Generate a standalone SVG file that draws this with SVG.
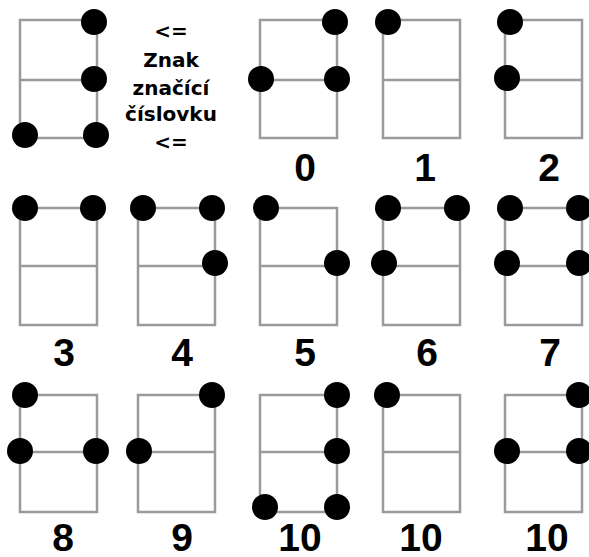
<svg xmlns="http://www.w3.org/2000/svg" width="589" height="557" viewBox="0 0 589 557">
<style>
.box{fill:none;stroke:#9a9a9a;stroke-width:2.5}
.dot{fill:#000}
.lbl{font-family:"Liberation Sans",Arial,sans-serif;font-weight:bold;font-size:39px;fill:#000;text-anchor:middle}
.key{font-family:"DejaVu Sans",Verdana,sans-serif;font-weight:bold;font-size:20px;fill:#000;text-anchor:middle}
</style>
<rect width="589" height="557" fill="#fff"/>
<g id="key">
<rect class="box" x="20" y="20" width="77" height="118"/><line class="box" x1="20" y1="80" x2="97" y2="80"/>
<circle class="dot" cx="94" cy="22" r="13"/><circle class="dot" cx="94" cy="79" r="13"/><circle class="dot" cx="25" cy="135" r="13"/><circle class="dot" cx="96" cy="135" r="13"/>
</g>
<g id="key-text">
<text class="key" x="171" y="38">&lt;=</text>
<text class="key" x="171" y="67">Znak</text>
<text class="key" x="171" y="95">značící</text>
<text class="key" x="171" y="121">číslovku</text>
<text class="key" x="171" y="149">&lt;=</text>
</g>
<g id="n0">
<rect class="box" x="260" y="20" width="77" height="118"/><line class="box" x1="260" y1="80" x2="337" y2="80"/>
<circle class="dot" cx="335" cy="22" r="13"/><circle class="dot" cx="261" cy="79" r="13"/><circle class="dot" cx="337" cy="79" r="13"/>
<text class="lbl" x="305" y="181">0</text>
</g>
<g id="n1">
<rect class="box" x="383" y="20" width="77" height="118"/><line class="box" x1="383" y1="80" x2="460" y2="80"/>
<circle class="dot" cx="388" cy="22" r="13"/>
<text class="lbl" x="425" y="181">1</text>
</g>
<g id="n2">
<rect class="box" x="505" y="20" width="77" height="118"/><line class="box" x1="505" y1="80" x2="582" y2="80"/>
<circle class="dot" cx="510" cy="22" r="13"/><circle class="dot" cx="507" cy="78" r="13"/>
<text class="lbl" x="549" y="181">2</text>
</g>
<g id="n3">
<rect class="box" x="20" y="208" width="77" height="117"/><line class="box" x1="20" y1="266" x2="97" y2="266"/>
<circle class="dot" cx="25" cy="208" r="13"/><circle class="dot" cx="93" cy="208" r="13"/>
<text class="lbl" x="64" y="366">3</text>
</g>
<g id="n4">
<rect class="box" x="138" y="208" width="77" height="117"/><line class="box" x1="138" y1="266" x2="215" y2="266"/>
<circle class="dot" cx="143" cy="208" r="13"/><circle class="dot" cx="212" cy="208" r="13"/><circle class="dot" cx="215" cy="263" r="13"/>
<text class="lbl" x="182" y="366">4</text>
</g>
<g id="n5">
<rect class="box" x="260" y="208" width="77" height="117"/><line class="box" x1="260" y1="266" x2="337" y2="266"/>
<circle class="dot" cx="266" cy="208" r="13"/><circle class="dot" cx="337" cy="263" r="13"/>
<text class="lbl" x="305" y="366">5</text>
</g>
<g id="n6">
<rect class="box" x="383" y="208" width="77" height="117"/><line class="box" x1="383" y1="266" x2="460" y2="266"/>
<circle class="dot" cx="388" cy="208" r="13"/><circle class="dot" cx="457" cy="208" r="13"/><circle class="dot" cx="384" cy="263" r="13"/>
<text class="lbl" x="427" y="366">6</text>
</g>
<g id="n7">
<rect class="box" x="505" y="208" width="77" height="117"/><line class="box" x1="505" y1="266" x2="582" y2="266"/>
<circle class="dot" cx="510" cy="208" r="13"/><circle class="dot" cx="579" cy="208" r="13"/><circle class="dot" cx="507" cy="263" r="13"/><circle class="dot" cx="579" cy="263" r="13"/>
<text class="lbl" x="550" y="366">7</text>
</g>
<g id="n8">
<rect class="box" x="20" y="395" width="77" height="117"/><line class="box" x1="20" y1="452" x2="97" y2="452"/>
<circle class="dot" cx="25" cy="395" r="13"/><circle class="dot" cx="20" cy="451" r="13"/><circle class="dot" cx="96" cy="451" r="13"/>
<text class="lbl" x="63" y="551">8</text>
</g>
<g id="n9">
<rect class="box" x="138" y="395" width="77" height="117"/><line class="box" x1="138" y1="452" x2="215" y2="452"/>
<circle class="dot" cx="212" cy="395" r="13"/><circle class="dot" cx="139" cy="451" r="13"/>
<text class="lbl" x="182" y="551">9</text>
</g>
<g id="n10a">
<rect class="box" x="260" y="395" width="77" height="117"/><line class="box" x1="260" y1="452" x2="337" y2="452"/>
<circle class="dot" cx="337" cy="395" r="13"/><circle class="dot" cx="337" cy="451" r="13"/><circle class="dot" cx="265" cy="507" r="13"/><circle class="dot" cx="337" cy="507" r="13"/>
<text class="lbl" x="300" y="551">10</text>
</g>
<g id="n10b">
<rect class="box" x="383" y="395" width="77" height="117"/><line class="box" x1="383" y1="452" x2="460" y2="452"/>
<circle class="dot" cx="387" cy="395" r="13"/>
<text class="lbl" x="421" y="551">10</text>
</g>
<g id="n10c">
<rect class="box" x="505" y="395" width="77" height="117"/><line class="box" x1="505" y1="452" x2="582" y2="452"/>
<circle class="dot" cx="579" cy="395" r="13"/><circle class="dot" cx="507" cy="451" r="13"/><circle class="dot" cx="579" cy="451" r="13"/>
<text class="lbl" x="547" y="551">10</text>
</g>
</svg>
